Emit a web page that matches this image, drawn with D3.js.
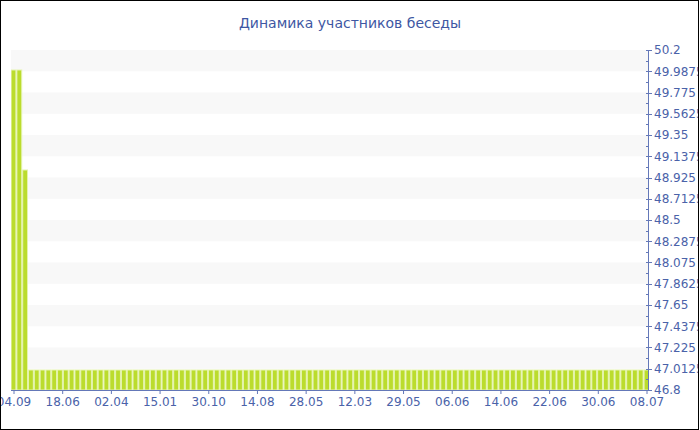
<!DOCTYPE html>
<html>
<head>
<meta charset="utf-8">
<script src="https://cdn.jsdelivr.net/npm/d3@7"></script>
<style>
  html, body { margin: 0; padding: 0; background: #fff; }
  svg { display: block; }
</style>
</head>
<body>
<svg id="chart" width="700" height="430"></svg>
<script>
// Chart title
const chartTitle = "Динамика участников беседы";

// Participant count per snapshot, oldest first
const participants = [
  50, 50, 49, 47, 47, 47, 47, 47, 47, 47,
  47, 47, 47, 47, 47, 47, 47, 47, 47, 47,
  47, 47, 47, 47, 47, 47, 47, 47, 47, 47,
  47, 47, 47, 47, 47, 47, 47, 47, 47, 47,
  47, 47, 47, 47, 47, 47, 47, 47, 47, 47,
  47, 47, 47, 47, 47, 47, 47, 47, 47, 47,
  47, 47, 47, 47, 47, 47, 47, 47, 47, 47,
  47, 47, 47, 47, 47, 47, 47, 47, 47, 47,
  47, 47, 47, 47, 47, 47, 47, 47, 47, 47,
  47, 47, 47, 47, 47, 47, 47, 47, 47, 47,
  47, 47, 47, 47, 47, 47, 47, 47, 47, 47
];

// Date labels shown along the bottom axis
const dateLabels = ["04.09", "18.06", "02.04", "15.01", "30.10", "14.08", "28.05",
                    "12.03", "29.05", "06.06", "14.06", "22.06", "30.06", "08.07"];

// Value axis tick labels, bottom to top
const valueTicks = [46.8, 47.0125, 47.225, 47.4375, 47.65, 47.8625, 48.075, 48.2875,
                    48.5, 48.7125, 48.925, 49.1375, 49.35, 49.5625, 49.775, 49.9875, 50.2];

const W = 700, H = 430;
const plot = { left: 11, right: 648, top: 50, bottom: 390 };
const textColor = "#4a62a9";
const axisColor = "#6478b8";
const font = "'DejaVu Sans', Verdana, sans-serif";

const svg = d3.select("#chart");

const defs = svg.append("defs");
defs.append("clipPath").attr("id", "plotClip")
  .append("rect")
  .attr("x", plot.left).attr("y", plot.top)
  .attr("width", plot.right - plot.left).attr("height", plot.bottom - plot.top);
defs.append("clipPath").attr("id", "frameClip")
  .append("rect").attr("x", 1).attr("y", 1).attr("width", W - 3).attr("height", H - 2);

const root = svg.append("g").attr("clip-path", "url(#frameClip)");

const n = participants.length;
const x = d3.scaleLinear().domain([0, n - 1]).range([13.5, 646.5]);
const y = d3.scaleLinear()
  .domain([valueTicks[0], valueTicks[valueTicks.length - 1]])
  .range([plot.bottom, plot.top]);
const pitch = x(1) - x(0);

// Alternating horizontal bands
const bands = d3.pairs(valueTicks).filter((_, i) => (valueTicks.length - 2 - i) % 2 === 0);
root.append("g").selectAll("rect").data(bands).join("rect")
  .attr("x", plot.left)
  .attr("width", plot.right - plot.left)
  .attr("y", d => y(d[1]))
  .attr("height", d => y(d[0]) - y(d[1]))
  .attr("fill", "#f8f8f8");

// Bars
root.append("g").attr("clip-path", "url(#plotClip)")
  .selectAll("rect").data(participants).join("rect")
  .attr("x", (d, i) => x(i) - pitch / 2 + 0.5)
  .attr("width", pitch - 1)
  .attr("y", d => y(d))
  .attr("height", d => y(valueTicks[0]) - y(d))
  .attr("fill", "#bbdc2d")
  .attr("stroke", "#e4f3ad")
  .attr("stroke-width", 1);

// Bottom axis: labels evenly distributed over the bar indices
const labelStep = (n - 1) / (dateLabels.length - 1);
const xAxis = d3.axisBottom(x)
  .tickValues(dateLabels.map((_, i) => i * labelStep))
  .tickFormat((d, i) => dateLabels[i])
  .tickSize(4)
  .tickSizeOuter(0);
const gx = root.append("g")
  .attr("transform", `translate(0,${plot.bottom})`)
  .call(xAxis);
gx.select(".domain").attr("stroke", axisColor).attr("d", `M${plot.left},0.5H${plot.right}`);
gx.selectAll(".tick line").attr("stroke", axisColor);
gx.selectAll(".tick text")
  .attr("fill", textColor).attr("font-family", font).attr("font-size", "12px")
  .attr("y", 7);

// Right value axis with minor ticks halfway between labels
const mid = d3.pairs(valueTicks).map(p => (p[0] + p[1]) / 2);
const gy = root.append("g").attr("transform", `translate(${plot.right},0)`);
gy.append("line")
  .attr("x1", 0.5).attr("x2", 0.5)
  .attr("y1", plot.top).attr("y2", plot.bottom)
  .attr("stroke", axisColor);
gy.selectAll("line.minor").data(mid).join("line").attr("class", "minor")
  .attr("x1", -2).attr("x2", 0.5)
  .attr("y1", d => Math.round(y(d)) + 0.5).attr("y2", d => Math.round(y(d)) + 0.5)
  .attr("stroke", axisColor);
gy.selectAll("line.major").data(valueTicks).join("line").attr("class", "major")
  .attr("x1", -2).attr("x2", 4)
  .attr("y1", d => Math.round(y(d)) + 0.5).attr("y2", d => Math.round(y(d)) + 0.5)
  .attr("stroke", axisColor);
gy.selectAll("text").data(valueTicks).join("text")
  .attr("x", 6)
  .attr("y", d => y(d))
  .attr("dy", "0.36em")
  .attr("fill", textColor)
  .attr("font-family", font)
  .attr("font-size", "12px")
  .text(d => String(d));

// Title
root.append("text")
  .attr("x", 350).attr("y", 28)
  .attr("text-anchor", "middle")
  .attr("fill", "#3e57a3")
  .attr("font-family", font)
  .attr("font-size", "14px")
  .text(chartTitle);

// Outer frame
svg.append("rect")
  .attr("x", 0.5).attr("y", 0.5)
  .attr("width", W - 2).attr("height", H - 1)
  .attr("fill", "none")
  .attr("stroke", "#000");
</script>
</body>
</html>
